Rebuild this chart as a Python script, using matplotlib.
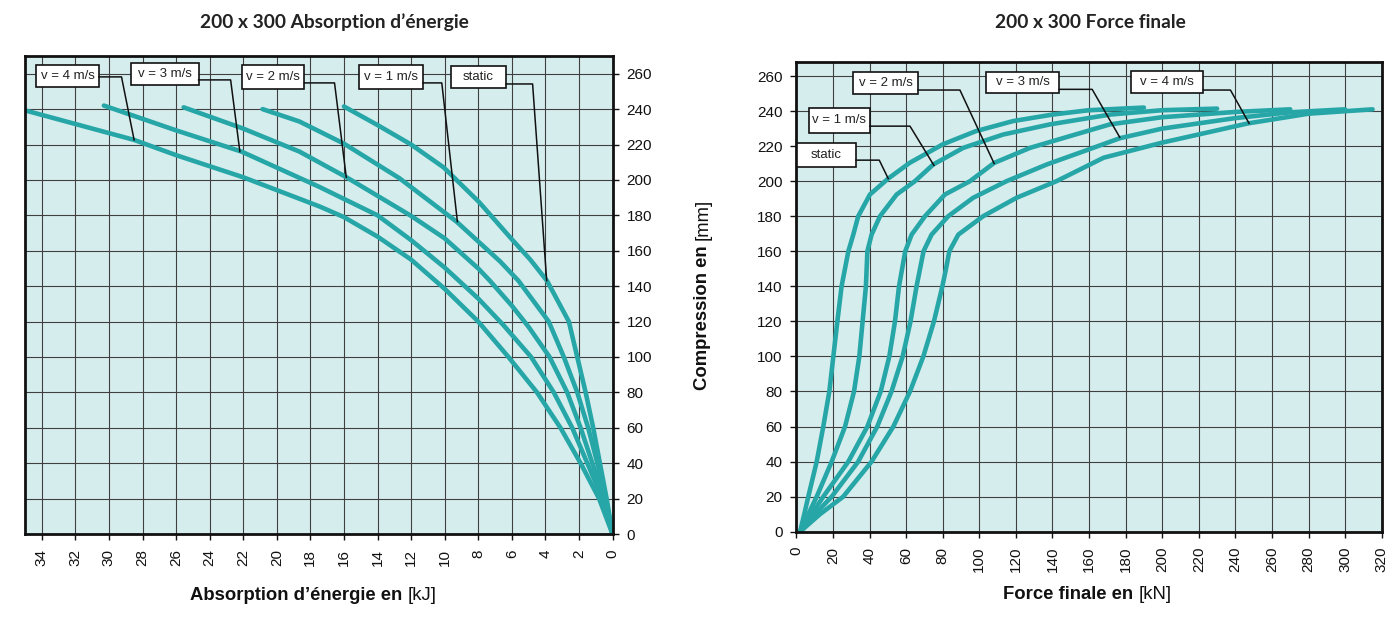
import numpy as np
import matplotlib.pyplot as plt
from matplotlib.patches import Rectangle

plt.rcParams['font.family'] = ['Liberation Sans', 'DejaVu Sans']

# ---- données ----
# absorption d'énergie [kJ] / compression [mm]
e_static = [0, 0.35, 0.75, 1.15, 1.6, 2.1, 2.6, 3.9, 4.9, 6.0, 7.95, 10.05, 12.0, 14.0, 16.0]
c_e_static = [0, 20, 40, 60, 80, 100, 120, 143, 155, 166.5, 187.5, 207, 220, 231, 241.5]
e_v1 = [0, 0.4, 0.9, 1.45, 2.1, 2.9, 3.8, 5.6, 6.7, 9.3, 12.7, 16.0, 18.65, 20.85]
c_e_v1 = [0, 20, 40, 60, 80, 100, 120, 143, 154, 176.5, 201, 220.5, 233, 240]
e_v2 = [0, 0.5, 1.2, 1.9, 2.7, 3.75, 5.0, 6.0, 7.3, 8.0, 10.0, 12.0, 15.85, 18.65, 22.0, 25.55]
c_e_v2 = [0, 20, 40, 60, 80, 100, 117, 129, 143, 150, 167, 179.7, 201.5, 216, 229, 241]
e_v3 = [0, 0.6, 1.5, 2.4, 3.5, 4.85, 6.5, 8.0, 10.0, 12.0, 14.0, 17.45, 22.1, 26.0, 30.3]
c_e_v3 = [0, 20, 40, 60, 80, 100, 118, 133, 150.5, 166, 180, 196, 216, 228, 242]
e_v4 = [0, 0.8, 1.9, 3.1, 4.5, 6.2, 8.0, 10.0, 12.0, 14.0, 16.0, 17.45, 22.0, 26.0, 28.5, 35.0]
c_e_v4 = [0, 20, 40, 60, 80, 100, 120, 138.5, 155, 168, 179, 185, 201.5, 214, 222.6, 239.3]

# force finale [kN] / compression [mm]
f_static = [2, 4.3, 6.5, 11.1, 14.7, 18.0, 20.2, 22.4, 24.7, 28.4, 31.1, 33.8, 40.2, 50.2, 62,
            80, 98, 118.5, 140, 160, 190]
c_f_static = [0, 10, 20, 40, 60, 80, 100, 120, 140, 160, 169.5, 180, 192.4, 201.5, 210.5,
              221, 228.5, 234.3, 238, 240.5, 242]
f_v1 = [2, 6.5, 11.1, 19.3, 26.6, 31.5, 34.4, 36.2, 38.0, 38.8, 41.1, 45.7, 54.8, 64.8, 74.8,
        91.2, 113, 138.6, 171.4, 200, 230]
c_f_v1 = [0, 10, 20, 40, 60, 80, 100, 120, 140, 160, 169.5, 180, 192.4, 200, 209.5,
          219, 226.6, 232.4, 238, 240.5, 241.4]
f_v2 = [2, 8.3, 14.7, 28.4, 38.8, 46.1, 50.8, 53.9, 56.1, 59.5, 63, 70.3, 81.2, 94.9, 108.1,
        127.7, 149.5, 171.4, 200, 240, 270]
c_f_v2 = [0, 10, 20, 40, 60, 80, 100, 120, 140, 160, 169.5, 180, 192.4, 200, 210.4,
          219, 225.7, 232.4, 236.5, 239.5, 241]
f_v3 = [2, 10.2, 19.3, 33.8, 44.2, 52.0, 58.1, 62.4, 65.7, 69.5, 73.9, 83, 96.6, 114.9, 136.8,
        156.9, 176.8, 200, 240, 270, 300]
c_f_v3 = [0, 10, 20, 40, 60, 80, 100, 120, 140, 160, 169.5, 180, 190.5, 200, 209.5,
          217, 224.5, 230, 236, 239.3, 241]
f_v4 = [2, 12.9, 25.6, 41.1, 53.0, 62.1, 69.4, 75.2, 79.8, 81.8, 83.6, 88.5, 102.1, 120.3, 142.2,
        168, 200, 247, 280, 315]
c_f_v4 = [0, 10, 20, 40, 60, 80, 100, 120, 140, 150, 160, 169.5, 180, 190.5, 200,
          213.4, 222, 233, 238.5, 241]

TEAL = '#27a6a7'
BG = '#d6edee'

fig = plt.figure(figsize=(13.93, 6.21), dpi=100)
W, H = 1393, 621
ax1 = fig.add_axes([25 / W, 1 - 534 / H, 587.5 / W, (534 - 56) / H])
ax2 = fig.add_axes([796.4 / W, 1 - 531.7 / H, 585.3 / W, (531.7 - 62) / H])

for ax in (ax1, ax2):
    ax.set_facecolor(BG)
    ax.grid(True, color='#404040', linewidth=0.8)
    ax.set_axisbelow(True)
    for s in ax.spines.values():
        s.set_linewidth(2)
        s.set_color('#111111')
    ax.tick_params(direction='out', length=4, width=1, labelsize=11, colors='#111111')

# ---- absorption d'énergie ----
ax1.set_xlim(35, 0)
ax1.set_ylim(0, 270)
ax1.set_xticks(np.arange(0, 35, 2))
ax1.set_yticks(np.arange(0, 261, 20))
ax1.yaxis.tick_right()
ax1.tick_params(axis='x', labelrotation=90, pad=7)
ax1.tick_params(axis='y', pad=6)
for x, y in [(e_static, c_e_static), (e_v1, c_e_v1), (e_v2, c_e_v2), (e_v3, c_e_v3), (e_v4, c_e_v4)]:
    ax1.plot(x, y, color=TEAL, lw=3.3, solid_capstyle='round', solid_joinstyle='round')

# ---- force finale ----
ax2.set_xlim(0, 320)
ax2.set_ylim(0, 268)
ax2.set_xticks(np.arange(0, 321, 20))
ax2.set_yticks(np.arange(0, 261, 20))
ax2.tick_params(axis='x', labelrotation=90, pad=7)
ax2.tick_params(axis='y', pad=6)
for x, y in [(f_static, c_f_static), (f_v1, c_f_v1), (f_v2, c_f_v2), (f_v3, c_f_v3), (f_v4, c_f_v4)]:
    ax2.plot(x, y, color=TEAL, lw=3.3, solid_capstyle='round', solid_joinstyle='round')


def callout(ax, text, box, leader):
    x0, x1, y0, y1 = box
    ax.add_patch(Rectangle((min(x0, x1), min(y0, y1)), abs(x1 - x0), abs(y1 - y0),
                           facecolor='white', edgecolor='#111111', lw=1.2, zorder=5))
    ax.text((x0 + x1) / 2, (y0 + y1) / 2, text, ha='center', va='center',
            fontsize=9.5, color='#222222', zorder=6)
    lx, ly = zip(*leader)
    ax.plot(lx, ly, color='#111111', lw=1.1, zorder=6)


# boîtes gauche (x en kJ, axe inversé)
callout(ax1, "v = 4 m/s", (34.33, 30.6, 252.5, 265), [(30.6, 258.2), (29.25, 258.2), (28.5, 222.6)])
callout(ax1, "v = 3 m/s", (28.7, 24.66, 253.7, 266), [(24.66, 256.5), (22.75, 256.5), (22.2, 216)])
callout(ax1, "v = 2 m/s", (22.05, 18.35, 251.4, 265), [(18.35, 254.8), (16.56, 254.8), (15.86, 201.5)])
callout(ax1, "v = 1 m/s", (15.1, 11.3, 251.4, 265), [(11.3, 254.8), (10.17, 254.8), (9.24, 176.4)])
callout(ax1, "static", (9.6, 6.35, 252, 264.4), [(6.35, 254.2), (4.76, 254.2), (3.92, 143.1)])

# boîtes droite
callout(ax2, "v = 2 m/s", (31.1, 66.6, 249.5, 262.3), [(66.6, 252), (89.4, 252), (108.1, 210.1)])
callout(ax2, "v = 3 m/s", (103.6, 143.7, 250.5, 262.3), [(143.7, 252.4), (161.7, 252.4), (176.8, 225)])
callout(ax2, "v = 4 m/s", (182.8, 222.4, 250.5, 262.9), [(222.4, 252), (237.3, 252), (247.5, 233)])
callout(ax2, "v = 1 m/s", (6.9, 40.2, 227.7, 241.9), [(40.2, 231.4), (62.1, 231.4), (75.2, 209)])
callout(ax2, "static", (0.2, 32.6, 208.2, 221.9), [(32.6, 212), (45.3, 212), (50.2, 201.5)])

# titres
title_font = ['Lato', 'DejaVu Sans']
fig.text(334 / W, 1 - 22 / H, "200 x 300 Absorption d’énergie", ha='center', va='center',
         fontsize=13.8, fontweight='bold', family=title_font, color='#222222')
fig.text(1090 / W, 1 - 22 / H, "200 x 300 Force finale", ha='center', va='center',
         fontsize=13.8, fontweight='bold', family=title_font, color='#222222')

# libellés d'axes (partie en gras + unité entre crochets)
LS = 13.3
t = fig.text(190 / W, 1 - 600 / H, "Absorption d’énergie en ", ha='left', va='baseline',
             fontsize=LS, fontweight='bold', color='#111111')
ax1.annotate("[kJ]", xy=(1, 0), xycoords=t, ha='left', va='bottom',
             fontsize=LS, color='#111111', annotation_clip=False)

t2 = fig.text(1003 / W, 1 - 599 / H, "Force finale en ", ha='left', va='baseline',
              fontsize=LS, fontweight='bold', color='#111111')
ax2.annotate("[kN]", xy=(1, 0), xycoords=t2, ha='left', va='bottom',
             fontsize=LS, color='#111111', annotation_clip=False)

t3 = fig.text(703 / W, 1 - 390 / H, "Compression en ", ha='center', va='bottom', rotation=90,
              fontsize=LS, fontweight='bold', color='#111111')
ax2.annotate("[mm]", xy=(0.5, 1), xycoords=t3, ha='center', va='bottom', rotation=90,
             fontsize=LS, color='#111111', annotation_clip=False)

fig.savefig("out.png", dpi=100)
